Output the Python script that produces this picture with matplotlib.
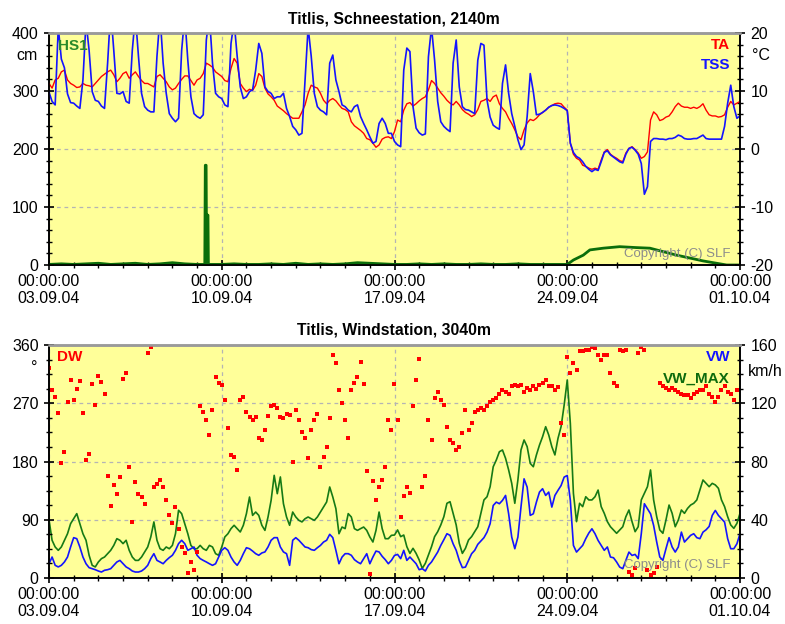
import numpy as np
import matplotlib
matplotlib.use('Agg')
import matplotlib.pyplot as plt
from matplotlib.ticker import MultipleLocator, FixedLocator

plt.rcParams['font.family'] = ['Liberation Sans', 'DejaVu Sans']
plt.rcParams['axes.unicode_minus'] = False

# ---------------- data ----------------
x_tick_hours = [0, 168, 336, 504, 672]
x_tick_labels = ['00:00:00\n03.09.04', '00:00:00\n10.09.04', '00:00:00\n17.09.04',
                 '00:00:00\n24.09.04', '00:00:00\n01.10.04']

# 3-hourly sample times (hours since 03.09.04 00:00)
t3 = np.arange(0, 673, 3)

ta = [11.3, 10.5, 11.9, 12.2, 13.3, 13.6, 11.9, 11.3,
      11.0, 10.6, 10.7, 11.3, 11.0, 10.9, 10.7, 11.3,
      11.9, 12.5, 12.9, 13.3, 13.6, 12.8, 11.6, 12.2,
      13.0, 13.3, 12.2, 12.8, 13.3, 12.5, 11.8, 11.3,
      11.3, 11.0, 10.7, 12.5, 12.8, 12.2, 11.6, 10.7,
      10.2, 10.5, 11.3, 12.0, 12.6, 12.6, 11.8, 11.0,
      11.9, 12.2, 13.0, 14.8, 14.5, 14.1, 13.3, 12.9,
      12.5, 11.8, 11.6, 13.9, 15.6, 14.8, 11.3, 10.5,
      9.9, 10.3, 10.1, 11.0, 13.0, 12.5, 10.5, 9.5,
      9.0, 8.4, 7.4, 7.0, 6.6, 6.1, 5.7, 5.3,
      5.3, 5.3, 6.4, 7.6, 9.6, 11.0, 10.7, 10.5,
      9.6, 8.4, 7.8, 8.4, 8.7, 8.3, 7.6, 7.0,
      6.8, 6.4, 4.7, 4.0, 3.6, 3.2, 2.7, 1.8,
      1.6, 1.0, 0.3, 0.7, 1.7, 2.0, 2.1, 1.8,
      3.0, 5.0, 4.7, 6.7, 7.8, 8.0, 7.4, 7.8,
      8.3, 8.7, 9.0, 10.2, 11.8, 11.3, 10.5, 9.7,
      9.1, 8.4, 7.9, 7.6, 8.2, 7.6, 6.8, 6.3,
      6.0, 5.6, 5.9, 6.8, 8.2, 8.4, 8.7, 8.2,
      9.0, 9.3, 7.8, 7.0, 6.4, 5.3, 4.4, 3.3,
      2.1, 1.6, 3.3, 4.5, 5.1, 4.9, 5.3, 5.9,
      6.3, 6.7, 7.2, 7.5, 7.8, 7.9, 7.8, 7.2,
      6.7, 1.0, -0.9, -1.6, -1.9, -2.8, -3.0, -3.3,
      -3.5, -3.3, -3.5, -1.9, -0.5, -0.1, -0.9, -1.3,
      -1.6, -2.0, -2.2, -0.7, 0.1, 0.4, -0.1, -0.7,
      -1.6, -1.3, -0.5, 5.0, 6.4, 5.9, 4.9, 5.1,
      5.5, 5.7, 6.4, 7.3, 7.9, 7.4, 7.2, 7.2,
      7.0, 7.2, 7.0, 7.3, 7.8, 6.7, 5.9, 5.7,
      5.7, 5.5, 5.6, 5.9, 7.2, 8.2, 7.6, 7.9,
      8.2]

tss = [9.8, 8.2, 7.6, 21.0, 15.5, 14.0, 9.5, 8.0,
       7.9, 7.4, 7.0, 11.9, 22.0, 17.0, 9.9, 8.4,
       8.2, 7.4, 7.0, 14.8, 24.0, 17.0, 9.6, 9.5,
       9.9, 8.2, 7.9, 17.0, 23.0, 16.0, 9.6, 7.3,
       6.7, 6.4, 6.4, 16.0, 23.0, 14.8, 9.6, 6.1,
       5.3, 4.7, 5.3, 17.0, 23.0, 15.3, 9.0, 6.1,
       5.6, 5.3, 5.9, 18.8, 23.0, 14.8, 9.6, 9.0,
       8.7, 7.6, 7.3, 18.2, 22.0, 16.0, 10.7, 8.7,
       9.0, 9.9, 10.2, 13.6, 18.2, 16.5, 10.7, 9.9,
       9.6, 8.7, 9.0, 9.0, 9.6, 7.0, 5.6, 3.9,
       3.3, 2.4, 2.7, 11.9, 21.0, 16.0, 9.6, 7.3,
       6.7, 6.4, 5.9, 14.8, 16.2, 11.9, 9.9, 7.6,
       7.3, 6.7, 6.4, 7.3, 7.6, 5.6, 4.4, 3.3,
       2.1, 1.0, 1.3, 4.4, 5.3, 4.4, 2.7, 2.7,
       1.3, 0.7, 0.4, 13.6, 17.4, 16.8, 7.3, 3.6,
       2.8, 2.4, 2.6, 15.9, 21.0, 15.3, 8.2, 4.7,
       3.9, 3.4, 3.0, 14.8, 18.8, 10.7, 7.3, 6.8,
       6.7, 6.4, 6.1, 15.3, 18.2, 17.9, 8.4, 5.5,
       4.1, 3.7, 3.4, 11.3, 14.5, 9.6, 6.1, 3.9,
       1.6, -0.1, 0.7, 5.6, 13.0, 9.9, 5.9, 6.0,
       6.3, 6.7, 7.2, 7.5, 7.6, 7.5, 7.3, 7.0,
       6.6, 1.0, -0.6, -1.3, -1.6, -2.2, -3.0, -3.5,
       -3.9, -3.5, -3.7, -2.2, -0.6, -0.3, -1.0, -1.4,
       -1.8, -2.2, -2.4, -0.9, 0.1, 0.3, -0.2, -0.9,
       -2.5, -7.8, -6.5, 1.3, 1.8, 1.8, 1.7, 1.7,
       1.6, 1.8, 1.8, 2.0, 2.4, 2.2, 1.8, 1.7,
       1.7, 1.8, 1.8, 2.1, 2.4, 1.8, 1.7, 1.7,
       1.7, 1.7, 1.7, 3.9, 7.9, 11.0, 7.3, 5.3,
       5.7]

hs1_hours = [0, 12, 24, 36, 48, 60, 72, 84, 96, 108, 120, 132, 144,
             151.5, 152, 152.8, 153.3, 153.8, 154.6, 155,
             168, 180, 192, 204, 216, 228, 240, 252, 264, 276, 288, 300, 312, 324,
             336, 348, 360, 372, 384, 396, 408, 420, 432, 444, 456, 468, 480, 492, 504,
             510, 519.6, 526, 539, 555, 571.4, 584.4, 597.4, 610.3, 623.3, 636.2,
             649.2, 659, 672]
hs1 = [1, 2, 1, 2, 3, 1, 2, 3, 1, 2, 4, 2, 1,
       1, 172, 172, 1, 86, 86, 1,
       1, 2, 1, 1, 2, 1, 3, 1, 2, 1, 2, 4, 3, 2,
       1, 1, 2, 1, 2, 1, 1, 2, 1, 1, 2, 1, 1, 1, 1,
       8.6, 17, 26, 29, 31.6, 30, 29, 23, 17, 12, 7,
       3, 0, 0]

vw = [9.8, 14.4, 8.7, 7.6, 8.7, 11.0, 14.4, 21.3,
      27.7, 27.0, 21.3, 14.4, 9.8, 7.1, 6.4, 5.7,
      4.8, 4.1, 5.3, 5.7, 6.4, 8.7, 11.0, 12.1,
      9.8, 7.6, 6.4, 4.8, 4.1, 4.1, 4.8, 6.4,
      8.7, 13.3, 16.7, 12.1, 11.0, 9.8, 12.1, 14.0,
      15.6, 19.0, 23.6, 25.9, 23.6, 19.0, 20.1, 21.3,
      15.6, 13.3, 12.1, 11.0, 9.8, 8.7, 9.8, 14.4,
      19.0, 20.8, 19.0, 14.4, 11.0, 8.7, 12.1, 16.7,
      20.8, 20.1, 18.5, 16.7, 15.6, 17.2, 17.9, 21.3,
      25.9, 27.7, 27.7, 21.3, 17.9, 16.7, 8.7, 25.9,
      27.7, 25.9, 23.6, 21.3, 20.8, 19.5, 19.0, 20.8,
      22.4, 24.7, 25.9, 30.0, 27.7, 19.0, 9.8, 14.4,
      16.7, 16.7, 15.6, 12.6, 11.0, 9.8, 13.3, 16.7,
      9.8, 14.4, 18.5, 17.9, 14.9, 12.6, 9.8, 12.1,
      15.5, 16.2, 13.3, 19.0, 12.1, 14.4, 12.1, 9.8,
      5.7, 6.4, 4.8, 8.7, 11.0, 14.4, 17.8, 22.4,
      26.3, 30.4, 29.3, 23.5, 19.0, 12.1, 7.1, 7.5,
      12.1, 16.7, 19.0, 23.1, 25.4, 27.7, 31.5, 37.3,
      49.8, 52.1, 51.0, 53.3, 56.7, 44.1, 28.1, 20.1,
      28.1, 48.7, 68.1, 62.4, 43.0, 44.1, 52.1, 59.0,
      61.3, 56.7, 59.0, 48.7, 56.7, 60.2, 63.5, 69.3,
      70.4, 53.3, 22.4, 17.8, 20.1, 22.4, 27.0, 30.9,
      33.8, 30.4, 25.8, 22.4, 19.0, 21.3, 14.4, 13.9,
      11.0, 7.5, 6.4, 12.1, 17.8, 15.5, 16.2, 13.3,
      30.4, 51.0, 47.5, 44.1, 36.1, 24.7, 14.4, 12.1,
      20.1, 27.7, 21.3, 17.8, 21.3, 31.5, 24.7, 27.0,
      29.3, 30.4, 27.7, 27.0, 31.5, 33.1, 35.4, 43.0,
      46.4, 43.0, 40.7, 38.4, 27.0, 20.1, 20.1, 23.5,
      30.4]

vw_max = [40.0, 25.9, 21.3, 19.0, 21.3, 25.9, 30.4, 37.3,
          40.7, 44.2, 37.3, 30.4, 25.9, 15.6, 8.7, 7.6,
          11.0, 13.3, 14.4, 16.7, 19.0, 22.4, 27.0, 25.9,
          23.6, 25.9, 19.0, 14.4, 12.1, 12.1, 14.4, 17.9,
          21.3, 28.2, 38.5, 25.9, 20.1, 19.0, 21.3, 20.1,
          22.4, 30.4, 46.5, 44.2, 37.3, 30.4, 22.4, 20.1,
          20.1, 22.4, 20.1, 19.0, 22.4, 21.3, 16.7, 15.6,
          21.3, 28.2, 30.4, 33.9, 36.2, 33.9, 31.6, 36.2,
          44.2, 55.6, 43.0, 45.3, 43.0, 36.2, 32.7, 41.9,
          53.3, 70.5, 57.9, 69.4, 51.0, 41.9, 36.2, 45.3,
          41.9, 39.6, 38.5, 40.7, 41.9, 40.7, 39.6, 41.9,
          45.3, 48.8, 52.2, 62.5, 55.6, 47.6, 30.4, 35.0,
          33.9, 44.2, 41.9, 33.9, 32.7, 33.9, 35.0, 32.7,
          28.2, 24.7, 32.7, 45.3, 33.9, 27.0, 27.0, 29.3,
          29.5, 33.0, 28.4, 29.5, 21.5, 16.9, 20.4, 16.9,
          12.4, 6.6, 10.1, 15.8, 21.5, 28.4, 31.8, 36.4,
          42.1, 51.3, 52.4, 44.4, 36.4, 23.8, 16.9, 20.4,
          26.1, 28.4, 31.8, 35.2, 44.4, 53.6, 55.8, 62.7,
          76.4, 81.0, 86.7, 87.9, 82.2, 74.2, 65.0, 51.3,
          67.3, 87.9, 94.8, 90.2, 78.7, 76.4, 84.5, 91.3,
          97.0, 103.9, 98.2, 90.2, 84.5, 95.9, 103.9, 118.8,
          136.0, 106.2, 58.1, 38.7, 51.3, 49.0, 55.8, 53.6,
          53.6, 55.8, 60.4, 49.0, 44.4, 38.7, 35.2, 33.0,
          30.7, 33.0, 35.2, 42.1, 46.7, 38.7, 31.8, 35.2,
          53.6, 58.1, 62.7, 74.2, 53.6, 42.1, 33.0, 30.7,
          39.8, 50.1, 44.4, 35.2, 39.8, 46.7, 44.4, 47.8,
          50.1, 51.3, 53.6, 60.4, 67.3, 65.0, 62.7, 65.0,
          63.9, 61.6, 53.6, 49.0, 42.1, 36.4, 34.1, 37.5,
          44.4]

dw = [325, 290, 280, 255, 178, 195, 272, 306,
      275, 292, 305, 255, 182, 192, 300, 268,
      312, 303, 285, 158, 112, 143, 130, 156,
      308, 316, 172, 86, 148, 130, 125, 115,
      347, 357, 141, 146, 151, 141, 120, 97,
      85, 110, 75, 48, 38, 7, 25, 12,
      40, 265, 257, 244, 221, 260, 311, 301,
      298, 275, 231, 190, 187, 167, 275, 280,
      257, 249, 244, 249, 216, 213, 229, 250,
      265, 267, 262, 249, 247, 254, 252, 180,
      260, 244, 226, 216, 185, 229, 244, 254,
      172, 187, 203, 247, 345, 332, 290, 270,
      244, 216, 290, 301, 311, 334, 300, 165,
      6, 150, 120, 141, 151, 171, 244, 229,
      300, 244, 95, 126, 141, 131, 265, 306,
      339, 141, 157, 244, 213, 278, 288, 275,
      267, 234, 213, 208, 198, 203, 224, 260,
      229, 239, 257, 260, 262, 260, 265, 272,
      275, 278, 285, 290, 288, 285, 296, 298,
      296, 298, 288, 293, 290, 296, 292, 298,
      301, 306, 296, 296, 290, 295, 239, 221,
      342, 316, 332, 321, 350, 350, 352, 352,
      357, 355, 344, 337, 344, 345, 316, 301,
      296, 352, 350, 352, 10, 5, 15, 347,
      357, 352, 12, 5, 8, 17, 301, 296,
      293, 290, 293, 290, 288, 285, 283, 283,
      278, 285, 288, 290, 290, 296, 285, 280,
      272, 280, 290, 296, 288, 285, 275, 290]

# ---------------- styling ----------------
W, H = 785, 624
BG = '#ffff99'
GRID = '#b4b4b4'
RED = '#ff0000'
BLUE = '#1414ff'
HSGREEN = '#0b6e0b'
GREEN = '#167a16'
FS = 11.5


def px(x, y):
    return x / W, 1 - y / H


fig = plt.figure(figsize=(W / 100, H / 100), dpi=100)


def style_x(ax):
    ax.set_xlim(0, 672)
    ax.xaxis.set_major_locator(FixedLocator(x_tick_hours))
    ax.set_xticklabels(x_tick_labels, fontsize=FS, linespacing=1.15)
    ax.xaxis.set_minor_locator(MultipleLocator(24))
    ax.tick_params(axis='x', which='major', direction='inout', length=7, width=1.2, pad=3)
    ax.tick_params(axis='x', which='minor', direction='inout', length=4, width=1)


def style_frame(ax_main, ax_twin):
    for a in (ax_main, ax_twin):
        a.spines['top'].set_color('#9a9a9a')
        a.spines['top'].set_linewidth(1.8)
        for s in ('left', 'right', 'bottom'):
            a.spines[s].set_color('black')
            a.spines[s].set_linewidth(1.2)


# ================= top panel =================
ax1 = fig.add_axes([49 / W, 1 - 265 / H, 691 / W, 232 / H])
ax1.set_facecolor(BG)
ax1.set_axisbelow(True)
ax1.plot(hs1_hours, hs1, color=HSGREEN, lw=2.0, zorder=3)
ax1.set_ylim(0, 400)
ax1.yaxis.set_major_locator(MultipleLocator(100))
ax1.yaxis.set_minor_locator(MultipleLocator(20))
ax1.tick_params(axis='y', which='major', direction='inout', length=7, width=1.2, pad=4, labelsize=FS)
ax1.tick_params(axis='y', which='minor', direction='inout', length=4, width=1)
style_x(ax1)
ax1.grid(True, which='major', color=GRID, linestyle=(0, (3, 3)), lw=0.9)

ax1t = ax1.twinx()
ax1t.plot(t3, ta, color=RED, lw=1.0)
ax1t.plot(t3, tss, color=BLUE, lw=1.2)
ax1t.set_ylim(-20, 20)
ax1t.set_xlim(0, 672)
ax1t.yaxis.set_major_locator(MultipleLocator(10))
ax1t.yaxis.set_minor_locator(MultipleLocator(2))
ax1t.tick_params(axis='y', which='major', direction='inout', length=7, width=1.2, pad=4, labelsize=FS)
ax1t.tick_params(axis='y', which='minor', direction='inout', length=4, width=1)
style_frame(ax1, ax1t)

fig.text(*px(394, 19), 'Titlis, Schneestation, 2140m', fontsize=11.3, fontweight='bold',
         ha='center', va='center')
fig.text(*px(38, 56), 'cm', fontsize=FS, ha='right', va='center')
fig.text(*px(752, 56), '°C', fontsize=FS, ha='left', va='center')
fig.text(*px(58, 46), 'HS1', fontsize=11, fontweight='bold', color='#2a8a2a', ha='left', va='center')
fig.text(*px(730, 45), 'TA', fontsize=11, fontweight='bold', color=RED, ha='right', va='center')
fig.text(*px(730, 65), 'TSS', fontsize=11, fontweight='bold', color=BLUE, ha='right', va='center')
fig.text(*px(730, 254), 'Copyright (C) SLF', fontsize=9.5, color='#8c8c8c', ha='right', va='center')

# ================= bottom panel =================
ax2 = fig.add_axes([49 / W, 1 - 578 / H, 691 / W, 233 / H])
ax2.set_facecolor(BG)
ax2.set_axisbelow(True)
ax2.plot(t3, vw_max, color=GREEN, lw=1.2, zorder=3)
ax2.plot(t3, vw, color=BLUE, lw=1.2, zorder=4)
ax2.set_ylim(0, 160)
ax2.yaxis.set_major_locator(MultipleLocator(40))
ax2.yaxis.set_minor_locator(MultipleLocator(10))
style_x(ax2)
ax2.grid(True, which='major', color=GRID, linestyle=(0, (3, 3)), lw=0.9)

ax2t = ax2.twinx()
ax2t.plot(t3[:len(dw)], dw, linestyle='none', marker='s', markersize=2.45,
          color=RED, markeredgewidth=0)
ax2t.set_ylim(0, 360)
ax2t.set_xlim(0, 672)
ax2t.yaxis.set_major_locator(MultipleLocator(90))
ax2t.yaxis.set_minor_locator(MultipleLocator(22.5))

ax2.yaxis.set_ticks_position('right')
ax2t.yaxis.set_ticks_position('left')
for a in (ax2, ax2t):
    a.tick_params(axis='y', which='major', direction='inout', length=7, width=1.2, pad=4, labelsize=FS)
    a.tick_params(axis='y', which='minor', direction='inout', length=4, width=1)
style_frame(ax2, ax2t)

fig.text(*px(394, 330), 'Titlis, Windstation, 3040m', fontsize=11.3, fontweight='bold',
         ha='center', va='center')
fig.text(*px(38, 368), '°', fontsize=FS, ha='right', va='center')
fig.text(*px(748, 372), 'km/h', fontsize=FS, ha='left', va='center')
fig.text(*px(57, 357), 'DW', fontsize=11, fontweight='bold', color=RED, ha='left', va='center')
fig.text(*px(730, 357), 'VW', fontsize=11, fontweight='bold', color=BLUE, ha='right', va='center')
fig.text(*px(730, 379), 'VW_MAX', fontsize=11, fontweight='bold', color='#0d6b0d', ha='right', va='center')
fig.text(*px(730, 565), 'Copyright (C) SLF', fontsize=9.5, color='#8c8c8c', ha='right', va='center')

fig.savefig('out.png', dpi=100, facecolor='white')
